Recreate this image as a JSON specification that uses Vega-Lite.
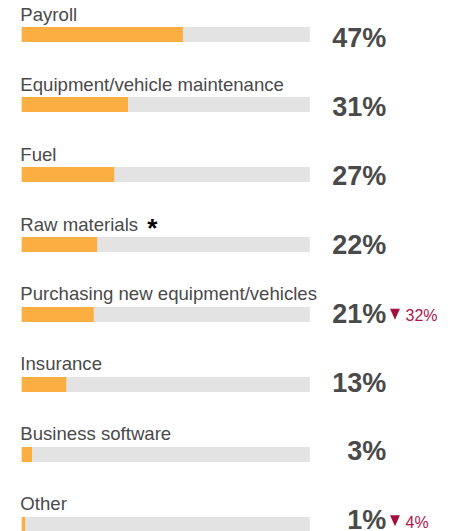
{
  "$schema": "https://vega.github.io/schema/vega-lite/v6.json",
  "width": 452,
  "height": 531,
  "autosize": {"type": "none"},
  "padding": 0,
  "background": "white",
  "config": {"view": {"stroke": null}, "font": "Liberation Sans"},
  "data": {
    "values": [
      {"row": 0, "category": "Payroll", "pct": 47, "label": "47%"},
      {"row": 1, "category": "Equipment/vehicle maintenance", "pct": 31, "label": "31%"},
      {"row": 2, "category": "Fuel", "pct": 27, "label": "27%"},
      {"row": 3, "category": "Raw materials", "pct": 22, "label": "22%", "note": "*"},
      {"row": 4, "category": "Purchasing new equipment/vehicles", "pct": 21, "label": "21%", "change": "32%"},
      {"row": 5, "category": "Insurance", "pct": 13, "label": "13%"},
      {"row": 6, "category": "Business software", "pct": 3, "label": "3%"},
      {"row": 7, "category": "Other", "pct": 1, "label": "1%", "change": "4%"}
    ]
  },
  "resolve": {"scale": {"y": "independent"}},
  "layer": [
    {
      "mark": {"type": "bar", "orient": "horizontal", "height": 15, "color": "#e3e3e3"},
      "encoding": {
        "y": {"field": "row", "type": "quantitative", "scale": {"domain": [-0.49286, 7.09286], "reverse": true, "nice": false, "zero": false, "padding": 0}, "axis": null},
        "x": {"datum": 84, "type": "quantitative", "scale": {"domain": [-6.327, 125.45], "nice": false, "zero": false, "padding": 0}, "axis": null},
        "x2": {"datum": 0}
      }
    },
    {
      "mark": {"type": "bar", "orient": "horizontal", "height": 15, "color": "#fbae41"},
      "encoding": {
        "y": {"field": "row", "type": "quantitative", "scale": {"domain": [-0.49286, 7.09286], "reverse": true, "nice": false, "zero": false, "padding": 0}, "axis": null},
        "x": {"field": "pct", "type": "quantitative", "scale": {"domain": [-6.327, 125.45], "nice": false, "zero": false, "padding": 0}, "axis": null},
        "x2": {"datum": 0}
      }
    },
    {
      "mark": {"type": "text", "align": "left", "baseline": "alphabetic", "dy": -14, "fontSize": 18.6, "font": "Liberation Sans", "color": "#4a4a4a"},
      "encoding": {
        "y": {"field": "row", "type": "quantitative", "scale": {"domain": [-0.49286, 7.09286], "reverse": true, "nice": false, "zero": false, "padding": 0}, "axis": null},
        "x": {"datum": -0.4, "type": "quantitative"},
        "text": {"field": "category"}
      }
    },
    {
      "transform": [{"filter": "datum.note"}],
      "mark": {"type": "text", "align": "left", "baseline": "alphabetic", "dy": -7.5, "fontSize": 26, "font": "Liberation Sans", "fontWeight": "bold", "color": "#000000"},
      "encoding": {
        "y": {"field": "row", "type": "quantitative", "scale": {"domain": [-0.49286, 7.09286], "reverse": true, "nice": false, "zero": false, "padding": 0}, "axis": null},
        "x": {"datum": 36.6, "type": "quantitative"},
        "text": {"field": "note"}
      }
    },
    {
      "mark": {"type": "text", "align": "right", "baseline": "alphabetic", "fontSize": 27, "font": "Liberation Sans", "fontWeight": "bold", "color": "#4a4a4a"},
      "encoding": {
        "y": {"field": "row", "type": "quantitative", "scale": {"domain": [-0.6869, 7.0244], "reverse": true, "nice": false, "zero": false, "padding": 0}, "axis": null},
        "x": {"datum": 106.3, "type": "quantitative"},
        "text": {"field": "label"}
      }
    },
    {
      "transform": [{"filter": "datum.change"}],
      "mark": {"type": "point", "shape": "M-0.9,-1L0.9,-1L0,1Z", "size": 121, "filled": true, "opacity": 1, "color": "#a50d3e", "yOffset": -8.5},
      "encoding": {
        "y": {"field": "row", "type": "quantitative", "scale": {"domain": [-0.6869, 7.0244], "reverse": true, "nice": false, "zero": false, "padding": 0}, "axis": null},
        "x": {"datum": 108.83, "type": "quantitative"}
      }
    },
    {
      "transform": [{"filter": "datum.change"}],
      "mark": {"type": "text", "align": "left", "baseline": "alphabetic", "dy": -1.7, "fontSize": 16, "font": "Liberation Sans", "color": "#b0134a"},
      "encoding": {
        "y": {"field": "row", "type": "quantitative", "scale": {"domain": [-0.6869, 7.0244], "reverse": true, "nice": false, "zero": false, "padding": 0}, "axis": null},
        "x": {"datum": 111.9, "type": "quantitative"},
        "text": {"field": "change"}
      }
    }
  ]
}
